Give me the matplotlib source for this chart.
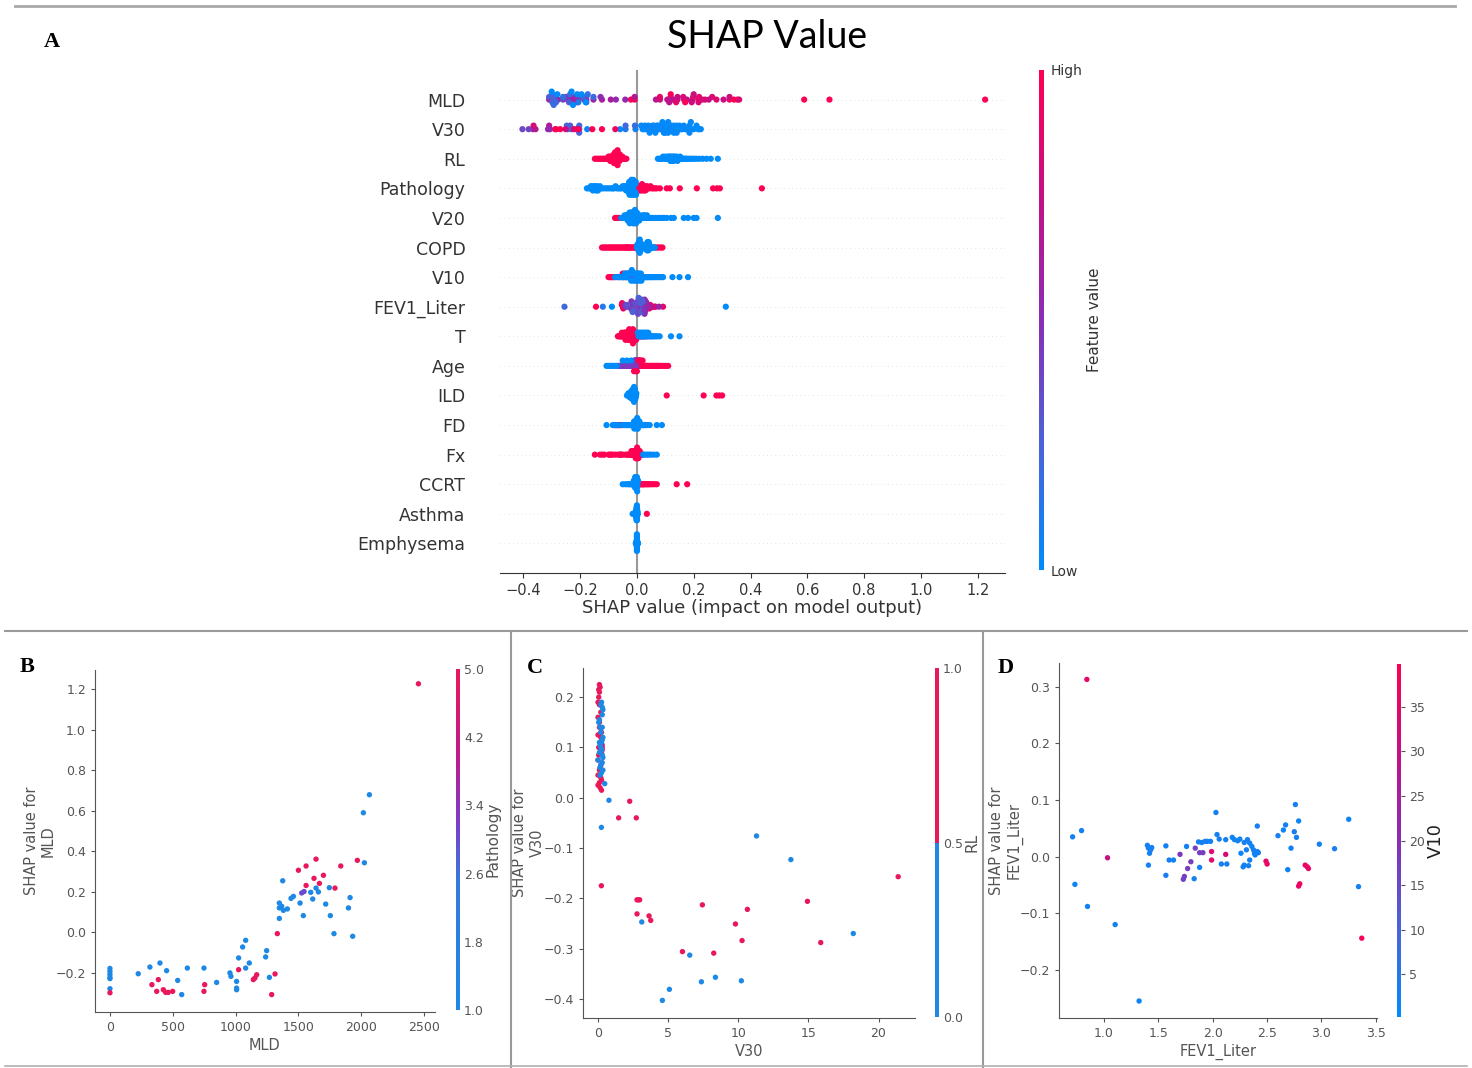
import numpy as np
import matplotlib
matplotlib.use('Agg')
import matplotlib.pyplot as plt
from matplotlib.colors import LinearSegmentedColormap, ListedColormap, Normalize
from matplotlib.cm import ScalarMappable
from matplotlib.lines import Line2D

W, H = 1472, 1068

# ---------------- data ----------------
features = ["MLD", "V30", "RL", "Pathology", "V20", "COPD", "V10", "FEV1_Liter",
            "T", "Age", "ILD", "FD", "Fx", "CCRT", "Asthma", "Emphysema"]

# panel B : MLD vs SHAP, coloured by Pathology
mld_x = [2455, 2065, 2017, 2025, 1969, 1837, 1640, 1500, 1561, 1375, 1699, 1624, 1667, 1561, 1791,
         1746, 1598, 1659, 1640, 1460, 1441, 1348, 1367, 1348, 1380, 1412, 1348, 1513, 1539, 1614,
         1717, 1754, 1898, 1911, 1783, 1932, 1332, 1526, 1545, 1314, 1287, 1269, 1247, 1239, 1080,
         1056, 1024, 1109, 1080, 1024, 1008, 1008, 1008, 955, 963, 1168, 1154, 1141, 849, 748,
         754, 748, 616, 571, 539, 499, 464, 443, 425, 451, 385, 372, 334, 398, 318,
         225, 0, 0, 0, 0, 0, 0, 0]
mld_shap = [1.226, 0.678, 0.589, 0.342, 0.354, 0.326, 0.360, 0.305, 0.326, 0.253, 0.280, 0.265, 0.240, 0.230, 0.217,
            0.219, 0.196, 0.198, 0.217, 0.176, 0.166, 0.143, 0.127, 0.119, 0.107, 0.114, 0.067, 0.143, 0.081, 0.163,
            0.138, 0.081, 0.119, 0.170, -0.008, -0.021, -0.008, 0.193, 0.200, -0.207, -0.309, -0.224, -0.092, -0.123, -0.041,
            -0.074, -0.128, -0.153, -0.178, -0.186, -0.244, -0.277, -0.285, -0.202, -0.219, -0.211, -0.227, -0.235, -0.249, -0.178,
            -0.260, -0.293, -0.178, -0.309, -0.239, -0.293, -0.298, -0.298, -0.285, -0.191, -0.235, -0.293, -0.260, -0.153, -0.173,
            -0.206, -0.180, -0.195, -0.210, -0.225, -0.230, -0.280, -0.300]
mld_pathology = [5, 1, 1, 1, 5, 5, 5, 5, 5, 1, 5, 5, 5, 5, 5,
                 1, 1, 1, 1, 1, 1, 1, 1, 1, 1, 1, 1, 1, 1, 1,
                 1, 1, 1, 1, 1, 1, 5, 3, 3, 5, 5, 1, 1, 1, 1,
                 1, 1, 1, 1, 5, 1, 1, 1, 1, 1, 5, 5, 5, 1, 1,
                 5, 5, 1, 1, 1, 5, 5, 5, 5, 1, 5, 5, 5, 1, 1,
                 1, 1, 1, 1, 1, 1, 1, 5]

# panel C : V30 vs SHAP, coloured by RL
v30_x = [0.1, 0.15, 0.05, 0.0, 0.1, 0.0, 0.1, 0.0, 0.2, 0.05, 0.3, 0.25, 0.0, 0.15, 0.0, 0.2, 0.1, 0.15, 0.25,
         0.1, 0.05, 0.2, 0.1, 0.25, 0.15, 0.3, 0.05, 0.2, 0.1, 0.25, 0.0, 0.3, 0.2,
         0.2, 0.3, 0.35, 0.05, 0.15, 0.3, 0.1, 0.2, 0.35, 0.0, 0.3, 0.15, 0.25,
         0.25, 0.3, 0.1, 0.2, 0.35, 0.15, 0.25, 0.1, 0.3, 0.2, 0.35, 0.15, 0.25, 0.3,
         0.48, 0.78, 2.26, 1.47, 2.73, 0.24, 0.24, 2.78, 2.88, 2.97, 2.78, 3.64, 3.76, 3.12,
         7.44, 10.65, 9.8, 10.27, 6.02, 8.25, 6.54, 11.3, 13.75, 21.4, 14.93, 15.88, 18.2,
         7.37, 8.37, 10.22, 5.09, 4.59]
v30_shap = [0.225, 0.22, 0.215, 0.19, 0.185, 0.16, 0.14, 0.125, 0.12, 0.1, 0.095, 0.09, 0.075, 0.06, 0.045, 0.04, 0.03, 0.02, 0.015,
            0.21, 0.2, 0.17, 0.15, 0.13, 0.11, 0.105, 0.085, 0.065, 0.055, 0.035, 0.025, 0.1, 0.13,
            0.185, 0.18, 0.175, 0.15, 0.14, 0.115, 0.11, 0.1, 0.08, 0.075, 0.07, 0.06, 0.05,
            0.19, 0.165, 0.155, 0.13, 0.12, 0.105, 0.095, 0.09, 0.085, 0.065, 0.055, 0.045, 0.11, 0.14,
            0.028, -0.005, -0.007, -0.04, -0.04, -0.059, -0.175, -0.203, -0.203, -0.203, -0.231, -0.235, -0.244, -0.247,
            -0.213, -0.222, -0.251, -0.284, -0.306, -0.309, -0.313, -0.076, -0.123, -0.157, -0.206, -0.288, -0.27,
            -0.366, -0.357, -0.364, -0.381, -0.403]
v30_rl = [1, 1, 1, 1, 1, 1, 1, 1, 1, 1, 1, 1, 1, 1, 1, 1, 1, 1, 1,
          1, 1, 1, 1, 1, 1, 1, 1, 1, 1, 1, 1, 1, 1,
          0, 0, 0, 0, 0, 0, 0, 0, 0, 0, 0, 0, 0,
          0, 0, 0, 0, 0, 0, 0, 0, 0, 0, 0, 0, 0, 0,
          0, 0, 1, 1, 1, 0, 1, 1, 1, 1, 1, 1, 1, 0,
          1, 1, 1, 1, 1, 1, 0, 0, 0, 1, 1, 1, 0,
          0, 0, 0, 0, 0]

# panel D : FEV1_Liter vs SHAP, coloured by V10
fev_x = [0.844, 0.713, 0.795, 0.734, 0.85, 1.034, 1.104, 1.324, 3.37, 3.34, 3.25, 3.12, 2.98, 2.76, 2.79,
         2.67, 2.65, 2.60, 2.75, 2.77, 2.72, 2.69, 2.80, 2.79, 2.85, 2.87, 2.88, 2.49, 2.50, 2.41,
         2.32, 2.34, 2.36, 2.375, 2.384, 2.39, 2.41, 2.42, 2.34, 2.29, 2.28, 2.33, 2.29, 2.25, 2.23,
         2.20, 2.18, 2.12, 2.06, 2.08, 2.13, 2.26, 2.31,
         2.03, 2.04, 1.98, 1.95, 1.93, 1.90, 1.99, 1.99, 2.12, 1.91, 1.88, 1.84, 1.88, 1.83, 1.80,
         1.77, 1.74, 1.73, 1.70, 1.76, 1.64, 1.60, 1.57, 1.57, 1.41, 1.40, 1.41, 1.43, 1.42, 1.44, 1.87]
fev_shap = [0.313, 0.035, 0.046, -0.049, -0.088, -0.002, -0.120, -0.255, -0.144, -0.053, 0.066, 0.014, 0.022, 0.092, 0.063,
            0.056, 0.047, 0.037, 0.044, 0.034, 0.015, -0.023, -0.048, -0.052, -0.015, -0.018, -0.021, -0.008, -0.013, 0.054,
            0.030, 0.024, 0.018, 0.012, 0.006, 0.003, 0.009, 0.007, -0.006, -0.015, -0.018, -0.016, 0.025, 0.031, 0.028,
            0.030, 0.034, 0.030, 0.031, -0.013, -0.013, 0.006, 0.012,
            0.078, 0.039, 0.027, 0.027, 0.027, 0.025, 0.009, -0.006, 0.004, 0.007, 0.007, 0.015, -0.019, -0.039, -0.009,
            -0.021, -0.035, -0.040, 0.004, 0.018, -0.006, -0.006, -0.033, 0.019, -0.015, 0.020, 0.015, 0.012, 0.006, 0.016, 0.026]
fev_v10 = [36, 3, 3, 2, 3, 30, 3, 2, 38, 3, 2, 3, 3, 3, 2,
           3, 2, 3, 4, 3, 3, 2, 37, 36, 36, 37, 36, 35, 36, 3,
           3, 3, 2, 3, 3, 2, 3, 3, 3, 2, 3, 3, 3, 2, 3,
           3, 2, 3, 3, 3, 3, 2, 3,
           3, 3, 3, 3, 3, 3, 34, 35, 33, 17, 17, 16, 3, 3, 17,
           17, 17, 16, 18, 3, 3, 3, 3, 3, 3, 3, 3, 3, 3, 3, 3]

# beeswarm rows: SHAP values of patients with low / mid / high feature value
rl_hi = [-0.148, -0.142, -0.136, -0.13, -0.125, -0.12, -0.116, -0.112, -0.108, -0.105, -0.102, -0.1, -0.098, -0.096,
         -0.094, -0.092, -0.09, -0.09, -0.088, -0.087, -0.086, -0.085, -0.084, -0.083, -0.082, -0.081, -0.08, -0.08,
         -0.079, -0.078, -0.077, -0.077, -0.076, -0.075, -0.075, -0.074, -0.073, -0.073, -0.072, -0.071, -0.071, -0.07,
         -0.07, -0.069, -0.068, -0.068, -0.067, -0.066, -0.065, -0.064, -0.063, -0.062, -0.061, -0.06, -0.058, -0.056,
         -0.054, -0.051, -0.048, -0.045, -0.041, -0.037]
rl_lo = [0.074, 0.079, 0.084, 0.088, 0.092, 0.096, 0.1, 0.1, 0.103, 0.106, 0.109, 0.11, 0.112, 0.114, 0.116, 0.118,
         0.12, 0.12, 0.122, 0.124, 0.126, 0.128, 0.13, 0.13, 0.132, 0.134, 0.137, 0.14, 0.14, 0.143, 0.146, 0.149,
         0.152, 0.156, 0.16, 0.164, 0.168, 0.172, 0.177, 0.182, 0.188, 0.195, 0.202, 0.21, 0.22, 0.232, 0.245,
         0.26, 0.285]

path_lo = [-0.176, -0.17, -0.165, -0.162, -0.16, -0.158, -0.155, -0.152, -0.15, -0.148, -0.146, -0.144, -0.142, -0.14,
           -0.137, -0.134, -0.13, -0.125, -0.12, -0.112, -0.105, -0.098, -0.09, -0.085, -0.08, -0.075, -0.07, -0.065,
           -0.06, -0.055, -0.05, -0.047, -0.044, -0.042, -0.04, -0.038, -0.036, -0.034, -0.033, -0.031, -0.03, -0.029,
           -0.028, -0.027, -0.026, -0.025, -0.024, -0.023, -0.022, -0.021, -0.02, -0.019, -0.018, -0.017, -0.016,
           -0.015, -0.014, -0.013, -0.012, -0.011, -0.01, -0.009, -0.008, -0.007, -0.006, -0.005, -0.004, -0.003]
path_mid = [-0.026, -0.022, -0.018, -0.014, -0.01, -0.006, -0.004, -0.002, 0.0, 0.002, 0.004]
path_hi = [0.006, 0.008, 0.01, 0.012, 0.014, 0.016, 0.018, 0.02, 0.022, 0.024, 0.026, 0.028, 0.03, 0.033, 0.036,
           0.04, 0.044, 0.048, 0.053, 0.058, 0.064, 0.07, 0.081, 0.105, 0.116, 0.151, 0.211, 0.268, 0.282, 0.292, 0.44]

v20_lo = [-0.055, -0.05, -0.046, -0.043, -0.04, -0.038, -0.036, -0.034, -0.032, -0.03, -0.029, -0.028, -0.027, -0.026,
          -0.025, -0.024, -0.023, -0.022, -0.021, -0.02, -0.019, -0.018, -0.017, -0.016, -0.015, -0.014, -0.013,
          -0.012, -0.011, -0.01, -0.009, -0.008, -0.007, -0.006, -0.005, -0.004, -0.003, -0.002, -0.001, 0.0, 0.002,
          0.004, 0.006, 0.008, 0.01, 0.013, 0.016, 0.019, 0.022, 0.026, 0.03, 0.035, 0.04, 0.046, 0.052, 0.056, 0.066,
          0.075, 0.082, 0.09, 0.095, 0.105, 0.12, 0.13, 0.165, 0.18, 0.2, 0.21, 0.285]
v20_mid = [-0.035, -0.03, -0.025, -0.02, -0.015, -0.012, -0.01, -0.007, -0.005, 0.0, 0.005, 0.01]
v20_hi = [-0.077, -0.072, -0.067, -0.062, 0.025, 0.035]

copd_hi = [-0.123, -0.118, -0.113, -0.108, -0.103, -0.098, -0.094, -0.09, -0.086, -0.082, -0.078, -0.074, -0.07,
           -0.066, -0.062, -0.058, -0.054, -0.05, -0.046, -0.042, -0.038, -0.036, -0.034, -0.032, -0.03, -0.026,
           -0.022, -0.018, -0.014, -0.01, -0.006, -0.003, 0.066, 0.072, 0.078, 0.085, 0.09]
copd_lo = [0.0, 0.001, 0.002, 0.003, 0.004, 0.005, 0.005, 0.006, 0.006, 0.007, 0.007, 0.008, 0.008, 0.009, 0.009,
           0.01, 0.01, 0.011, 0.011, 0.012, 0.012, 0.013, 0.013, 0.014, 0.015, 0.016, 0.017, 0.018, 0.019, 0.02,
           0.022, 0.024, 0.026, 0.028, 0.03, 0.031, 0.032, 0.033, 0.034, 0.035, 0.035, 0.036, 0.036, 0.037, 0.037,
           0.038, 0.038, 0.039, 0.039, 0.04, 0.04, 0.041, 0.042, 0.043, 0.044, 0.045, 0.047, 0.049, 0.051, 0.054,
           0.057, 0.06, 0.063]

v10_hi = [-0.1, -0.096, -0.092, -0.088, -0.084, -0.08, -0.05, -0.035, -0.02]
v10_mid = [-0.06, -0.05, -0.045, -0.04, -0.035, -0.03, -0.027, -0.024, -0.021, -0.018, -0.015, -0.012, -0.01, -0.007,
           -0.004, 0.0, 0.005, 0.01, 0.015]
v10_lo = [-0.077, -0.07, -0.065, -0.058, -0.052, -0.047, -0.043, -0.04, -0.037, -0.034, -0.031, -0.028, -0.025,
          -0.022, -0.02, -0.018, -0.016, -0.014, -0.012, -0.01, -0.008, -0.006, -0.004, -0.002, 0.0, 0.002, 0.004,
          0.006, 0.008, 0.01, 0.012, 0.014, 0.016, 0.018, 0.02, 0.022, 0.025, 0.028, 0.031, 0.034, 0.037, 0.04,
          0.044, 0.048, 0.052, 0.056, 0.06, 0.065, 0.07, 0.076, 0.082, 0.088, 0.092, 0.125, 0.15, 0.18]

t_hi = [-0.067, -0.063, -0.06, -0.057, -0.055, -0.053, -0.051, -0.049, -0.047, -0.046, -0.045, -0.044, -0.043,
        -0.042, -0.041, -0.04, -0.039, -0.038, -0.037, -0.036, -0.035, -0.034, -0.033, -0.032, -0.031, -0.03, -0.03,
        -0.029, -0.028, -0.028, -0.027, -0.026, -0.026, -0.025, -0.024, -0.024, -0.023, -0.022, -0.022, -0.021,
        -0.02, -0.02, -0.019, -0.018, -0.018, -0.017, -0.016, -0.016, -0.015, -0.014, -0.014, -0.013, -0.012,
        -0.012, -0.011, -0.01, -0.009, -0.008, -0.007, -0.006, -0.005, -0.004, -0.003, -0.002, -0.001]
t_mid = [0.002, 0.005, 0.008, 0.011, 0.014, 0.017, 0.02, 0.023, 0.026, 0.03, 0.035, 0.04]
t_lo = [0.003, 0.006, 0.009, 0.012, 0.015, 0.018, 0.021, 0.024, 0.027, 0.03, 0.033, 0.036, 0.04, 0.044, 0.048,
        0.052, 0.056, 0.06, 0.066, 0.072, 0.08, 0.12, 0.15]

age_lo = [-0.107, -0.1, -0.093, -0.085, -0.078, -0.071, -0.05, -0.035, -0.02]
age_mid = [-0.065, -0.06, -0.055, -0.05, -0.046, -0.042, -0.038, -0.035, -0.032, -0.029, -0.026, -0.024, -0.022,
           -0.02, -0.018, -0.016, -0.014, -0.012, -0.01, -0.009, -0.008, -0.007, -0.006, -0.005, -0.004, -0.003,
           -0.002, -0.001, 0.0, 0.001, 0.002, 0.003, 0.004, 0.006, 0.008, 0.01, 0.012, 0.015, 0.018, 0.02]
age_hi = [-0.01, 0.0, 0.005, 0.008, 0.011, 0.014, 0.017, 0.02, 0.023, 0.026, 0.029, 0.032, 0.036, 0.04, 0.045,
          0.05, 0.055, 0.06, 0.065, 0.07, 0.075, 0.08, 0.087, 0.095, 0.102, 0.11]

ild_lo = [-0.035, -0.032, -0.03, -0.028, -0.026, -0.025, -0.024, -0.023, -0.022, -0.021, -0.02, -0.019, -0.018,
          -0.018, -0.017, -0.016, -0.016, -0.015, -0.015, -0.014, -0.014, -0.013, -0.013, -0.012, -0.012, -0.011,
          -0.011, -0.01, -0.01, -0.009, -0.009, -0.008, -0.008, -0.007, -0.007, -0.006, -0.005, -0.004, -0.003, -0.002]
ild_hi = [0.105, 0.235, 0.28, 0.29, 0.3]

fd_lo = [-0.107, -0.085, -0.075, -0.065, -0.05, -0.045, -0.04, -0.036, -0.032, -0.028, -0.025, -0.022, -0.02,
         -0.018, -0.016, -0.014, -0.012, -0.01, -0.009, -0.008, -0.007, -0.006, -0.005, -0.004, -0.003, -0.002,
         -0.001, 0.0, 0.0, 0.001, 0.001, 0.002, 0.002, 0.003, 0.004, 0.005, 0.006, 0.007, 0.008, 0.009, 0.01, 0.012,
         0.014, 0.016, 0.018, 0.02, 0.023, 0.026, 0.03, 0.035, 0.045, 0.07, 0.088]
fd_mid = [-0.08, -0.072, -0.062, -0.01]
fd_hi = [-0.078, -0.07, -0.066, -0.06, -0.055]

fx_hi = [-0.148, -0.13, -0.122, -0.115, -0.1, -0.095, -0.09, -0.085, -0.075, -0.065, -0.058, -0.05, -0.04, -0.035,
         -0.03, -0.027, -0.024, -0.021, -0.019, -0.017, -0.015, -0.013, -0.011, -0.01, -0.009, -0.008, -0.007,
         -0.006, -0.005, -0.004, -0.003, -0.002, -0.001, 0.0, 0.0, 0.001, 0.001, 0.002, 0.003, 0.004, 0.005, 0.006,
         0.007, 0.008, 0.01, 0.012, 0.014, 0.017, 0.02]
fx_mid = [-0.06, -0.055, -0.02, -0.005, 0.005]
fx_lo = [0.022, 0.028, 0.035, 0.042, 0.05, 0.06, 0.07]

ccrt_lo = [-0.05, -0.04, -0.032, -0.026, -0.022, -0.019, -0.016, -0.014, -0.012, -0.011, -0.01, -0.009, -0.008,
           -0.007, -0.006, -0.006, -0.005, -0.005, -0.004, -0.004, -0.003, -0.003, -0.002, -0.002, -0.001, -0.001,
           0.0, 0.0, 0.001, 0.002, 0.003, 0.004]
ccrt_hi = [0.005, 0.008, 0.011, 0.014, 0.017, 0.02, 0.023, 0.026, 0.03, 0.034, 0.038, 0.043, 0.048, 0.055, 0.062,
           0.07, 0.14, 0.177]

asthma_lo = [-0.015, -0.012, -0.01, -0.008, -0.006, -0.005, -0.004, -0.004, -0.003, -0.003, -0.003, -0.002, -0.002,
             -0.002, -0.002, -0.002, -0.001, -0.001, -0.001, -0.001, -0.001, -0.001, -0.001, 0.0, 0.0, 0.0, 0.0, 0.0,
             0.0, 0.0, 0.0, 0.001, 0.001, 0.001, 0.001, 0.002, 0.002, 0.003]
asthma_hi = [0.035]

emph_lo = [-0.004, -0.003, -0.002, -0.002, -0.001, -0.001, -0.001, 0.0, 0.0, 0.0, 0.0, 0.0, 0.0, 0.0, 0.0, 0.0, 0.0,
           0.001, 0.001, 0.001, 0.002, 0.002, 0.003, 0.004]
emph_hi = [0.0, 0.0]

# ---------------- colours ----------------
shap_cmap = LinearSegmentedColormap.from_list(
    'shap', ['#008bfb', '#4a63d8', '#8a2eb5', '#c40f86', '#ff0052'])
path_cmap = LinearSegmentedColormap.from_list(
    'path', [(0, '#1e88e5'), (0.38, '#3579dc'), (0.55, '#7d3cc8'), (0.75, '#c01b8a'), (1, '#e8185a')])
rl_cmap = ListedColormap(['#1e88e5', '#e8185a'])
txt = '#333333'
gray = '#555555'


def norm_pct(v):
    v = np.asarray(v, float)
    lo, hi = np.percentile(v, 5), np.percentile(v, 95)
    return np.clip((v - lo) / (hi - lo), 0, 1)


def groups(lo=(), mid=(), hi=()):
    vals = list(mid) + list(hi) + list(lo)
    cols = [0.45] * len(mid) + [1.0] * len(hi) + [0.0] * len(lo)
    return np.array(vals), np.array(cols)


rows = {
    "MLD": (np.array(mld_shap), norm_pct(mld_x)),
    "V30": (np.array(v30_shap), norm_pct(v30_x)),
    "RL": groups(lo=rl_lo, hi=rl_hi),
    "Pathology": groups(path_lo, path_mid, path_hi),
    "V20": groups(v20_lo, v20_mid, v20_hi),
    "COPD": groups(lo=copd_lo, hi=copd_hi),
    "V10": groups(v10_lo, v10_mid, v10_hi),
    "FEV1_Liter": (np.array(fev_shap), norm_pct(fev_x)),
    "T": groups(t_lo, t_mid, t_hi),
    "Age": groups(age_lo, age_mid, age_hi),
    "ILD": groups(lo=ild_lo, hi=ild_hi),
    "FD": groups(fd_lo, fd_mid, fd_hi),
    "Fx": groups(fx_lo, fx_mid, fx_hi),
    "CCRT": groups(lo=ccrt_lo, hi=ccrt_hi),
    "Asthma": groups(lo=asthma_lo, hi=asthma_hi),
    "Emphysema": groups(lo=emph_lo, hi=emph_hi),
}


def swarm_offsets(vals, nbins=100, row_height=0.4):
    # same stacking rule as shap's beeswarm
    quant = np.round(nbins * (vals - vals.min()) / (vals.max() - vals.min() + 1e-8))
    order = np.argsort(quant, kind='stable')
    ys = np.zeros(len(vals))
    layer, last = 0, -1
    for i in order:
        if quant[i] != last:
            layer = 0
        ys[i] = np.ceil(layer / 2) * ((layer % 2) * 2 - 1)
        layer += 1
        last = quant[i]
    ys *= 0.9 * (row_height / np.max(ys + 1))
    return ys


fig = plt.figure(figsize=(W / 100, H / 100), dpi=100)


def px_axes(x0, y0, x1, y1):
    return fig.add_axes([x0 / W, 1 - y1 / H, (x1 - x0) / W, (y1 - y0) / H])


def fig_line(x0, y0, x1, y1, lw=1.5, color='#9a9a9a'):
    fig.add_artist(Line2D([x0 / W, x1 / W], [1 - y0 / H, 1 - y1 / H],
                          transform=fig.transFigure, color=color, lw=lw))


# frame lines
fig_line(15, 6, 1455, 6, lw=2, color='#a8a8a8')
fig_line(5, 631, 1467, 631)
fig_line(511, 631, 511, 1068)
fig_line(983, 631, 983, 1068)
fig_line(5, 1066, 1467, 1066, lw=1.2, color='#b0b0b0')

# ---------------- panel A ----------------
axA = px_axes(500, 70, 1005, 573)
n = len(features)
for k, name in enumerate(features):
    y = n - 1 - k
    axA.axhline(y, color='#cccccc', lw=0.5, dashes=(1, 5), zorder=-1)
    vals, cvals = rows[name]
    ys = swarm_offsets(vals)
    axA.scatter(vals, y + ys, c=shap_cmap(cvals), s=20, lw=0, zorder=3)
axA.axvline(0, color='#999999', lw=1.5, zorder=1)
axA.set_xlim(-0.482, 1.296)
axA.set_ylim(-1, n)
axA.set_yticks(range(n))
axA.set_yticklabels(features[::-1], fontsize=12.5, color=txt)
axA.tick_params(axis='y', length=0, pad=25)
axA.set_xticks([-0.4, -0.2, 0.0, 0.2, 0.4, 0.6, 0.8, 1.0, 1.2])
axA.tick_params(axis='x', labelsize=10.5, color=txt, labelcolor=txt)
for s in ['left', 'top', 'right']:
    axA.spines[s].set_visible(False)
axA.spines['bottom'].set_color(txt)
axA.set_xlabel('SHAP value (impact on model output)', fontsize=13, color=txt, labelpad=1)

caxA = px_axes(1039, 70, 1044, 570)
cbA = fig.colorbar(ScalarMappable(Normalize(0, 1), shap_cmap), cax=caxA)
cbA.outline.set_visible(False)
cbA.set_ticks([0, 1])
cbA.set_ticklabels(['Low', 'High'])
caxA.tick_params(length=0, labelsize=10, labelcolor=txt, pad=5)
cbA.set_label('Feature value', fontsize=11, color=txt, labelpad=3)

fig.text(767 / W, 1 - 37 / H, 'SHAP Value', ha='center', va='center', fontsize=27, family='Lato')

# ---------------- dependence panels ----------------


def dependence(box, cbox, x, y, c, cmap, vmin, vmax, xlabel, ylabel, clabel, cticks, xlim, ylim,
               xticks, yticks, cfmt, ctick_len=0, clabel_size=11, clabel_color=gray):
    ax = px_axes(*box)
    ax.scatter(x, y, c=c, cmap=cmap, vmin=vmin, vmax=vmax, s=15, lw=0)
    ax.set_xlim(*xlim)
    ax.set_ylim(*ylim)
    ax.set_xticks(xticks)
    ax.set_yticks(yticks)
    for s in ['top', 'right']:
        ax.spines[s].set_visible(False)
    for s in ['left', 'bottom']:
        ax.spines[s].set_color(gray)
    ax.tick_params(labelsize=9, color=gray, labelcolor=gray, length=3)
    ax.set_xlabel(xlabel, fontsize=10.5, color=gray, labelpad=3)
    ax.set_ylabel(ylabel, fontsize=10.5, color=gray)
    ax.yaxis.set_label_coords(-0.115, 0.5)
    cax = px_axes(*cbox)
    cb = fig.colorbar(ScalarMappable(Normalize(vmin, vmax), cmap), cax=cax)
    cb.outline.set_visible(False)
    cb.set_ticks(cticks)
    cb.set_ticklabels([cfmt.format(t) for t in cticks])
    cax.tick_params(length=ctick_len, labelsize=9, labelcolor=gray, color=gray, pad=3)
    cb.set_label(clabel, fontsize=clabel_size, color=clabel_color, labelpad=1)
    return ax


dependence((95, 670, 435, 1012), (456, 669, 460, 1010), mld_x, mld_shap, mld_pathology, path_cmap, 1, 5,
           'MLD', 'SHAP value for\nMLD', 'Pathology', [1.0, 1.8, 2.6, 3.4, 4.2, 5.0],
           (-119, 2587), (-0.395, 1.294), [0, 500, 1000, 1500, 2000, 2500],
           [-0.2, 0.0, 0.2, 0.4, 0.6, 0.8, 1.0, 1.2], '{:.1f}')

dependence((583, 668, 915, 1018), (935, 668, 939, 1017), v30_x, v30_shap, v30_rl, rl_cmap, 0, 1,
           'V30', 'SHAP value for\nV30', 'RL', [0.0, 0.5, 1.0],
           (-1.07, 22.6), (-0.438, 0.258), [0, 5, 10, 15, 20],
           [-0.4, -0.3, -0.2, -0.1, 0.0, 0.1, 0.2], '{:.1f}')

dependence((1059, 663, 1377, 1018), (1397, 664, 1401, 1017), fev_x, fev_shap, fev_v10, shap_cmap, 0.2, 39.8,
           'FEV1_Liter', 'SHAP value for\nFEV1_Liter', 'V10', [5, 10, 15, 20, 25, 30, 35],
           (0.588, 3.51), (-0.285, 0.342), [1.0, 1.5, 2.0, 2.5, 3.0, 3.5],
           [-0.2, -0.1, 0.0, 0.1, 0.2, 0.3], '{:d}', ctick_len=3, clabel_size=13, clabel_color='#222222')

# panel letters
for lab, xx, yy in [('A', 52, 42), ('B', 27, 667), ('C', 535, 668), ('D', 1006, 668)]:
    fig.text(xx / W, 1 - yy / H, lab, ha='center', va='center', fontsize=16,
             family='Liberation Serif', weight='bold')

fig.savefig('out.png', dpi=100)
